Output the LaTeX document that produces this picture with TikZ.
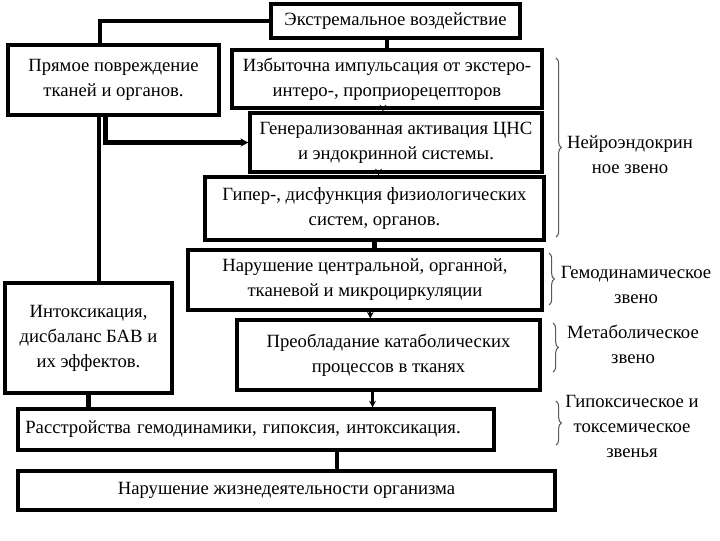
\documentclass[tikz,border=0pt]{standalone}
\usepackage{fontspec}
\setmainfont{Liberation Serif}
\usetikzlibrary{arrows.meta,decorations.pathreplacing}

\newcommand{\boxfont}{\fontsize{14}{18.75}\selectfont}

\tikzset{
  box/.style={draw, line width=2.3pt, inner sep=0pt, align=center, font=\boxfont},
  conn/.style={line width=3.2pt},
  link/.style={line width=1.6pt, -{Stealth[length=5pt,width=5pt]}},
  brc/.style={decorate, decoration={brace, amplitude=4pt}, draw=gray!70!black, line width=0.8pt},
  lbl/.style={align=center, font=\boxfont}
}

\begin{document}
\begin{tikzpicture}[x=0.75pt, y=-0.75pt]
\useasboundingbox (0,0) rectangle (720,540);

% Main chain
\node[box, minimum width=186.75pt, minimum height=25.5pt] (ext) at (395.5,21) {Экстремальное воздействие};
\node[box, minimum width=158.25pt, minimum height=52.5pt] (direct) at (113.5,80) {Прямое повреждение\\тканей и органов.};
\node[box, minimum width=232.5pt, minimum height=43.5pt] (exc) at (387,79) {Избыточна импульсация от экстеро-\\интеро-, проприорецепторов};
\node[box, minimum width=219pt, minimum height=44.25pt] (gen) at (396,142.5) {Генерализованная активация ЦНС\\и эндокринной системы.};
\node[box, minimum width=254.25pt, minimum height=47.25pt] (hyper) at (374.5,208.5) {Гипер-, дисфункция физиологических\\систем, органов.};
\node[box, minimum width=265.5pt, minimum height=45pt] (circ) at (365,280) {Нарушение центральной, органной,\\тканевой и микроциркуляции};
\node[box, minimum width=125.25pt, minimum height=82.5pt] (intox) at (88.5,338) {Интоксикация,\\дисбаланс БАВ и\\их эффектов.};
\node[box, minimum width=227.25pt, minimum height=52.5pt] (catab) at (388.5,355) {Преобладание катаболических\\процессов в тканях};
\node[box, minimum height=30.75pt, text width=346pt, inner xsep=5.5pt, align=left] (disord) at (256,429.5) {Расстройства гемодинамики, гипоксия, интоксикация.};
\node[box, minimum width=402.75pt, minimum height=29.25pt] (vital) at (286.5,490.5) {Нарушение жизнедеятельности организма};

% Connectors
\draw[conn] (ext.west) -| ([xshift=-10pt]direct.north);
\draw[conn] (ext.south -| exc.north) -- (exc.north);
\coordinate (trunk) at ([xshift=-11pt]direct.south);
\draw[conn] (trunk) -- (trunk |- intox.north);
\draw[conn, -{Stealth[length=6pt,width=6pt]}] ([xshift=-6pt]direct.south) |- (gen.west);
\draw[link] ([xshift=-3pt]exc.south) -- ([xshift=-3pt]exc.south |- gen.north);
\draw[link] ([xshift=3pt]hyper.north |- gen.south) -- ([xshift=3pt]hyper.north);
\draw[conn] (hyper.south) -- (hyper.south |- circ.north);
\draw[link] ([xshift=4pt]circ.south) -- ([xshift=4pt]circ.south |- catab.north);
\draw[link] ([xshift=-12pt]catab.south) -- ([xshift=-12pt]catab.south |- disord.north);
\draw[conn] (intox.south) -- (intox.south |- disord.north);
\draw[conn] ([xshift=38pt]vital.north |- disord.south) -- ([xshift=38pt]vital.north);

% Braces and links
\draw[brc] (556,58) -- (556,237);
\draw[brc] (549,253) -- (549,305);
\draw[brc] (553,323) -- (553,372);
\draw[brc] (556,401) -- (556,445);

\node[lbl] (neuro) at (630,155) {Нейроэндокрин\\ное звено};
\node[lbl] (hemo) at (636,284.5) {Гемодинамическое\\звено};
\node[lbl] (metab) at (633,344) {Метаболическое\\звено};
\node[lbl] (hypox) at (632,426.5) {Гипоксическое и\\токсемическое\\звенья};
\end{tikzpicture}
\end{document}
